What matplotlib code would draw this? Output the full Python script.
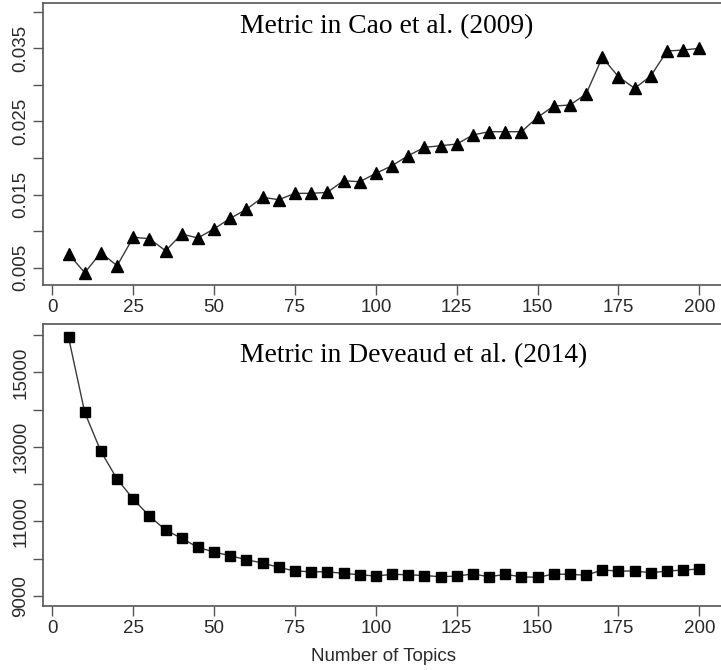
import matplotlib
matplotlib.use("Agg")
import matplotlib.pyplot as plt

# data
topics = list(range(5, 201, 5))

cao = [
    0.00687, 0.00432, 0.00705, 0.00527, 0.00916, 0.00897, 0.00732, 0.00961,
    0.00906, 0.01033, 0.01175, 0.01299, 0.01463, 0.01430, 0.01517, 0.01517,
    0.01530, 0.01690, 0.01676, 0.01790, 0.01895, 0.02032, 0.02146, 0.02168,
    0.02191, 0.02315, 0.02360, 0.02360, 0.02360, 0.02557, 0.02711, 0.02725,
    0.02875, 0.03377, 0.03112, 0.02953, 0.03121, 0.03463, 0.03477, 0.03500,
]

deveaud = [
    15936, 13925, 12879, 12137, 11600, 11145, 10769, 10547,
    10305, 10180, 10081, 9973, 9885, 9769, 9670, 9652,
    9650, 9608, 9571, 9536, 9582, 9570, 9550, 9518,
    9536, 9590, 9518, 9580, 9518, 9500, 9590, 9580,
    9560, 9697, 9670, 9670, 9625, 9670, 9697, 9724,
]

x_ticks = [0, 25, 50, 75, 100, 125, 150, 175, 200]
x_labels = ["0", "25", "50", "75", "100", "125", "150", "175", "200"]

cao_ticks = [0.005, 0.010, 0.015, 0.020, 0.025, 0.030, 0.035, 0.040]
cao_labels = ["0.005", "", "0.015", "", "0.025", "", "0.035", ""]

dev_ticks = [9000, 10000, 11000, 12000, 13000, 14000, 15000, 16000]
dev_labels = ["9000", "", "11000", "", "13000", "", "15000", ""]

SANS = ["Liberation Sans", "DejaVu Sans"]
SERIF = ["Liberation Serif", "DejaVu Serif"]
BOX = "#555555"
TEXT = "#2a2a2a"


def style_axis(ax, yticks, ylabels):
    for side in ["top", "bottom", "left", "right"]:
        ax.spines[side].set_color(BOX)
        ax.spines[side].set_linewidth(1.2)
    ax.set_xlim(-2.8, 207.8)
    ax.set_xticks(x_ticks)
    ax.set_xticklabels(x_labels, fontfamily=SANS, fontsize=13.5, color=TEXT)
    ax.set_yticks(yticks)
    ax.set_yticklabels(ylabels, fontfamily=SANS, fontsize=13.5, color=TEXT,
                       rotation=90, va="center")
    ax.tick_params(direction="out", length=7.5, width=1.0, color=BOX, pad=2.5)


fig = plt.figure(figsize=(7.21, 6.7), dpi=100)

ax1 = fig.add_axes([0.0601, 0.5746, 0.9448, 0.4213])
ax1.plot(topics, cao, color="#3a3a3a", lw=1.0, marker="^", ms=8.5,
         markerfacecolor="black", markeredgecolor="black")
ax1.set_ylim(0.002634, 0.041235)
style_axis(ax1, cao_ticks, cao_labels)
ax1.text(58, 0.8916, "Metric in Cao et al. (2009)", transform=ax1.get_xaxis_transform(),
         ha="left", va="baseline", fontfamily=SERIF, fontsize=19.8, color="black")

ax2 = fig.add_axes([0.0601, 0.0955, 0.9448, 0.4216])
ax2.plot(topics, deveaud, color="#3a3a3a", lw=1.0, marker="s", ms=7.5,
         markerfacecolor="black", markeredgecolor="black")
ax2.set_ylim(8732, 16309)
style_axis(ax2, dev_ticks, dev_labels)
ax2.text(58, 0.8648, "Metric in Deveaud et al. (2014)", transform=ax2.get_xaxis_transform(),
         ha="left", va="baseline", fontfamily=SERIF, fontsize=19.8, color="black")
ax2.set_xlabel("Number of Topics", fontfamily=SANS, fontsize=13.5, color=TEXT, labelpad=8)

fig.savefig("out.png", dpi=100)
